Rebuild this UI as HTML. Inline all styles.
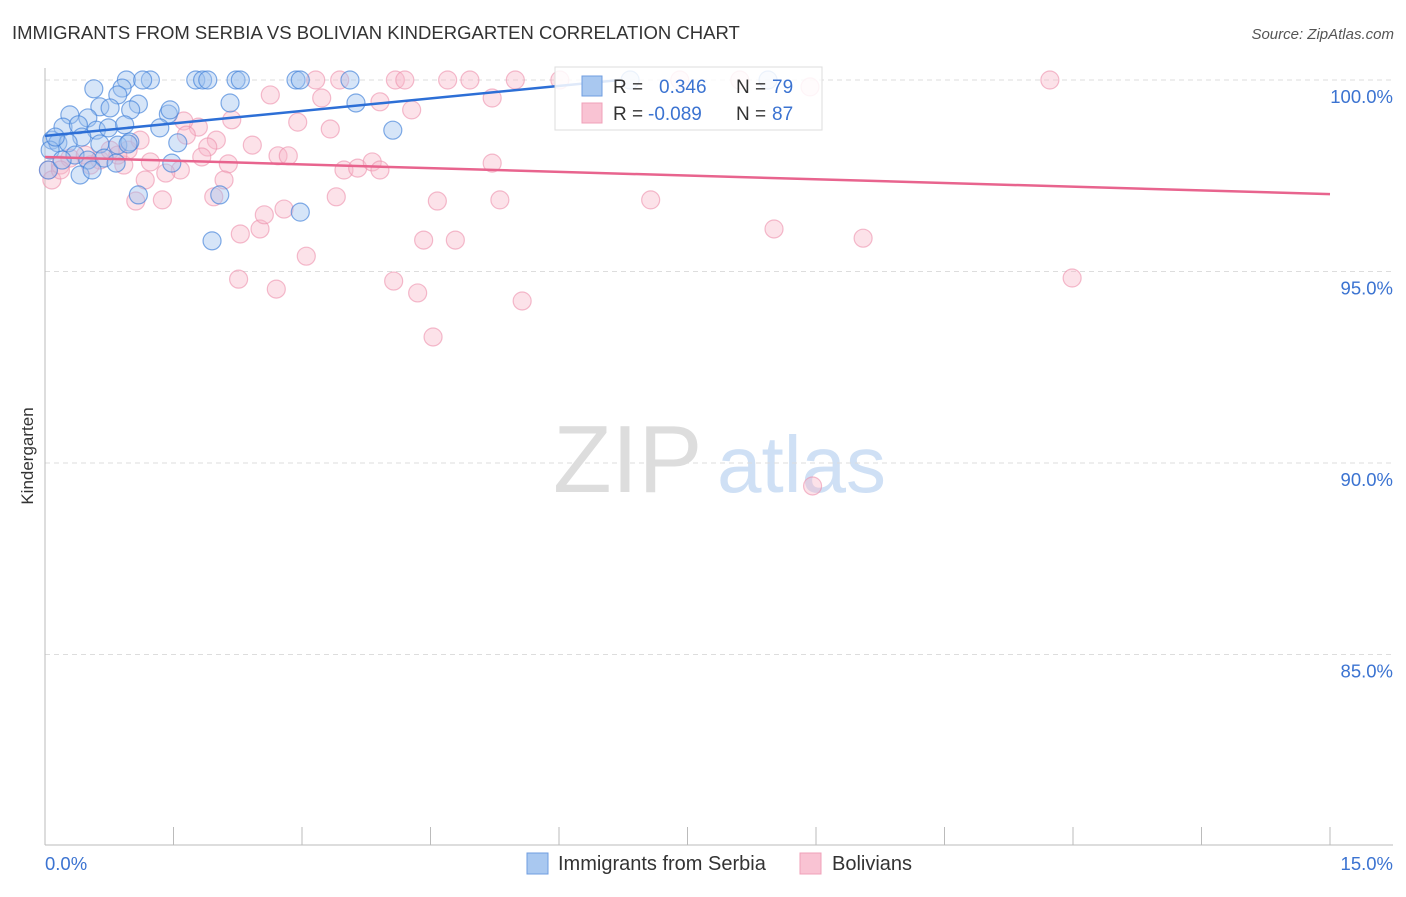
<!DOCTYPE html>
<html><head><meta charset="utf-8">
<style>
body{margin:0;background:#fff;font-family:"Liberation Sans",sans-serif;}
svg text{font-family:"Liberation Sans",sans-serif;}
</style></head>
<body>
<svg id="chart" width="1406" height="892" viewBox="0 0 1406 892" xmlns="http://www.w3.org/2000/svg">
<text x="12" y="39" font-size="18.5" fill="#333">IMMIGRANTS FROM SERBIA VS BOLIVIAN KINDERGARTEN CORRELATION CHART</text>
<text x="1394" y="39" font-size="15" fill="#555" text-anchor="end" font-style="italic">Source: ZipAtlas.com</text>
<g>
<text x="553" y="492" font-size="96" fill="#ddd" font-family="Liberation Serif, serif">ZIP</text>
<text x="717" y="492" font-size="80" fill="#cfe0f5">atlas</text>
</g>
<text transform="translate(33,456) rotate(-90)" font-size="17" fill="#333" text-anchor="middle">Kindergarten</text>
<g id="grid"></g>
<g id="axes"></g>
<g id="marks"></g>
<g>
<rect x="555" y="67" width="267" height="63" fill="#fff" fill-opacity="0.85" stroke="#ddd"/>
<rect x="582" y="76" width="20" height="20" fill="#a9c8f0" stroke="#6f9ee0"/>
<rect x="582" y="103" width="20" height="20" fill="#f9c3d3" stroke="#f0a0b8"/>
<text x="613" y="93" font-size="19" fill="#333">R =</text>
<text x="659" y="93" font-size="19" fill="#3b73d1">0.346</text>
<text x="736" y="93" font-size="19" fill="#333">N =</text>
<text x="772" y="93" font-size="19" fill="#3b73d1">79</text>
<text x="613" y="120" font-size="19" fill="#333">R =</text>
<text x="648" y="120" font-size="19" fill="#3b73d1">-0.089</text>
<text x="736" y="120" font-size="19" fill="#333">N =</text>
<text x="772" y="120" font-size="19" fill="#3b73d1">87</text>
</g>
<g>
<rect x="527" y="853" width="21" height="21" fill="#a9c8f0" stroke="#6f9ee0"/>
<text x="558" y="870" font-size="20" fill="#333">Immigrants from Serbia</text>
<rect x="800" y="853" width="21" height="21" fill="#f9c3d3" stroke="#f0a0b8"/>
<text x="832" y="870" font-size="20" fill="#333">Bolivians</text>
</g>
</svg>
<script>
const blueX=[0.95,1.23,1.14,1.76,1.84,1.90,2.23,2.28,2.93,2.98,3.56,6.83,8.44,0.57,0.90,0.85,0.64,0.76,1.09,1.44,1.00,2.16,3.63,4.06,0.29,0.50,0.21,0.39,0.60,0.74,0.93,1.34,0.43,0.08,0.15,0.27,0.64,0.85,0.99,1.55,0.35,0.50,0.69,0.97,1.48,0.83,0.41,0.55,1.09,2.04,2.98,1.95,0.04,0.06,0.12,0.20,1.46];
const blueY=[100,100,100,100,100,100,100,100,100,100,100,100,100,99.77,99.79,99.61,99.30,99.27,99.37,99.11,99.22,99.40,99.40,98.69,99.09,99.01,98.77,98.83,98.69,98.75,98.83,98.75,98.51,98.43,98.36,98.36,98.33,98.30,98.38,98.36,98.04,97.91,97.96,98.33,97.83,97.83,97.52,97.65,97.00,97.00,96.55,95.80,97.65,98.17,98.51,97.91,99.22];
const pinkX=[3.16,3.44,4.09,4.20,4.70,4.96,5.49,6.01,7.41,8.11,8.93,11.73,2.63,3.23,3.91,5.22,4.28,2.95,3.33,2.18,1.79,1.62,2.00,1.90,2.42,2.72,2.84,2.14,1.83,1.58,1.23,1.41,0.92,1.17,1.06,1.37,1.97,2.09,2.28,2.51,2.56,2.79,3.40,3.05,2.26,2.70,3.49,3.65,3.82,3.91,5.22,4.58,5.31,4.42,4.79,4.07,4.35,5.57,4.53,7.07,8.51,9.55,11.99,8.96,0.04,0.08,0.18,0.29,0.47,0.64,0.76,0.97,1.11,1.65,0.18,0.85,0.53];
const pinkY=[100,100,100,100,100,100,100,100,100,100,99.82,100,99.61,99.53,99.43,99.53,99.22,98.90,98.72,98.96,98.77,98.93,98.43,98.25,98.30,98.02,98.02,97.81,97.99,97.65,97.86,97.57,97.78,97.39,96.84,96.87,96.95,97.39,95.98,96.11,96.48,96.63,96.95,95.40,94.80,94.54,97.65,97.70,97.86,97.65,97.83,96.84,96.87,95.82,95.82,94.75,94.44,94.23,93.29,96.87,96.11,95.87,94.83,89.40,97.65,97.39,97.78,97.96,98.04,97.91,98.17,98.17,98.43,98.56,97.65,98.04,97.78];
const blueTrend=[0,98.54,6.71,100];
const pinkTrend=[0,97.99,15,97.02];
const yTicks=[100,95,90,85];
const yTickLabels=["100.0%","95.0%","90.0%","85.0%"];
const xTicks=[0,1.5,3,4.5,6,7.5,9,10.5,12,13.5,15];
const xEndLabels=["0.0%","15.0%"];

const NS="http://www.w3.org/2000/svg";
const xs=v=>45+v/15*1285;
const ys=v=>80+(100-v)/5*191.5;
function mk(tag,attrs,parent){const e=document.createElementNS(NS,tag);for(const k in attrs)e.setAttribute(k,attrs[k]);document.getElementById(parent).appendChild(e);return e;}
yTicks.forEach((t,i)=>{
 const g=mk('line',{x1:45,x2:1393,y1:ys(t),y2:ys(t),stroke:'#ddd','stroke-dasharray':'5,4'},'grid');
 
 
 const tx=mk('text',{x:1393,y:ys(t)+23,'font-size':18.5,fill:'#3b73d1','text-anchor':'end'},'axes');
 tx.textContent=yTickLabels[i];
 
 
});
const ax=mk('line',{x1:45,x2:1393,y1:845,y2:845,stroke:'#bbb'},'axes');


const ay=mk('line',{x1:45,x2:45,y1:68,y2:845,stroke:'#bbb'},'axes');


xTicks.forEach(t=>{
 const l=mk('line',{x1:xs(t),x2:xs(t),y1:827,y2:845,stroke:'#bbb'},'axes');
 
 
});
const xl0=mk('text',{x:45,y:870,'font-size':18.5,fill:'#3b73d1'},'axes');xl0.textContent=xEndLabels[0];


const xl1=mk('text',{x:1393,y:870,'font-size':18.5,fill:'#3b73d1','text-anchor':'end'},'axes');xl1.textContent=xEndLabels[1];


pinkX.forEach((x,i)=>{
 const c=mk('circle',{cx:xs(x),cy:ys(pinkY[i]),r:9,fill:'#f7b6c9','fill-opacity':0.4,stroke:'#ec8fab','stroke-opacity':0.6,'stroke-width':1.2},'marks');
 
 
});
blueX.forEach((x,i)=>{
 const c=mk('circle',{cx:xs(x),cy:ys(blueY[i]),r:9,fill:'#9ec2ee','fill-opacity':0.42,stroke:'#3f7fd8','stroke-opacity':0.65,'stroke-width':1.2},'marks');
 
 
});
const bl=mk('line',{x1:xs(blueTrend[0]),y1:ys(blueTrend[1]),x2:xs(blueTrend[2]),y2:ys(blueTrend[3]),stroke:'#2d6fd6','stroke-width':2.5},'marks');


const pl=mk('line',{x1:xs(pinkTrend[0]),y1:ys(pinkTrend[1]),x2:xs(pinkTrend[2]),y2:ys(pinkTrend[3]),stroke:'#e8648e','stroke-width':2.5},'marks');


</script>
</body></html>
